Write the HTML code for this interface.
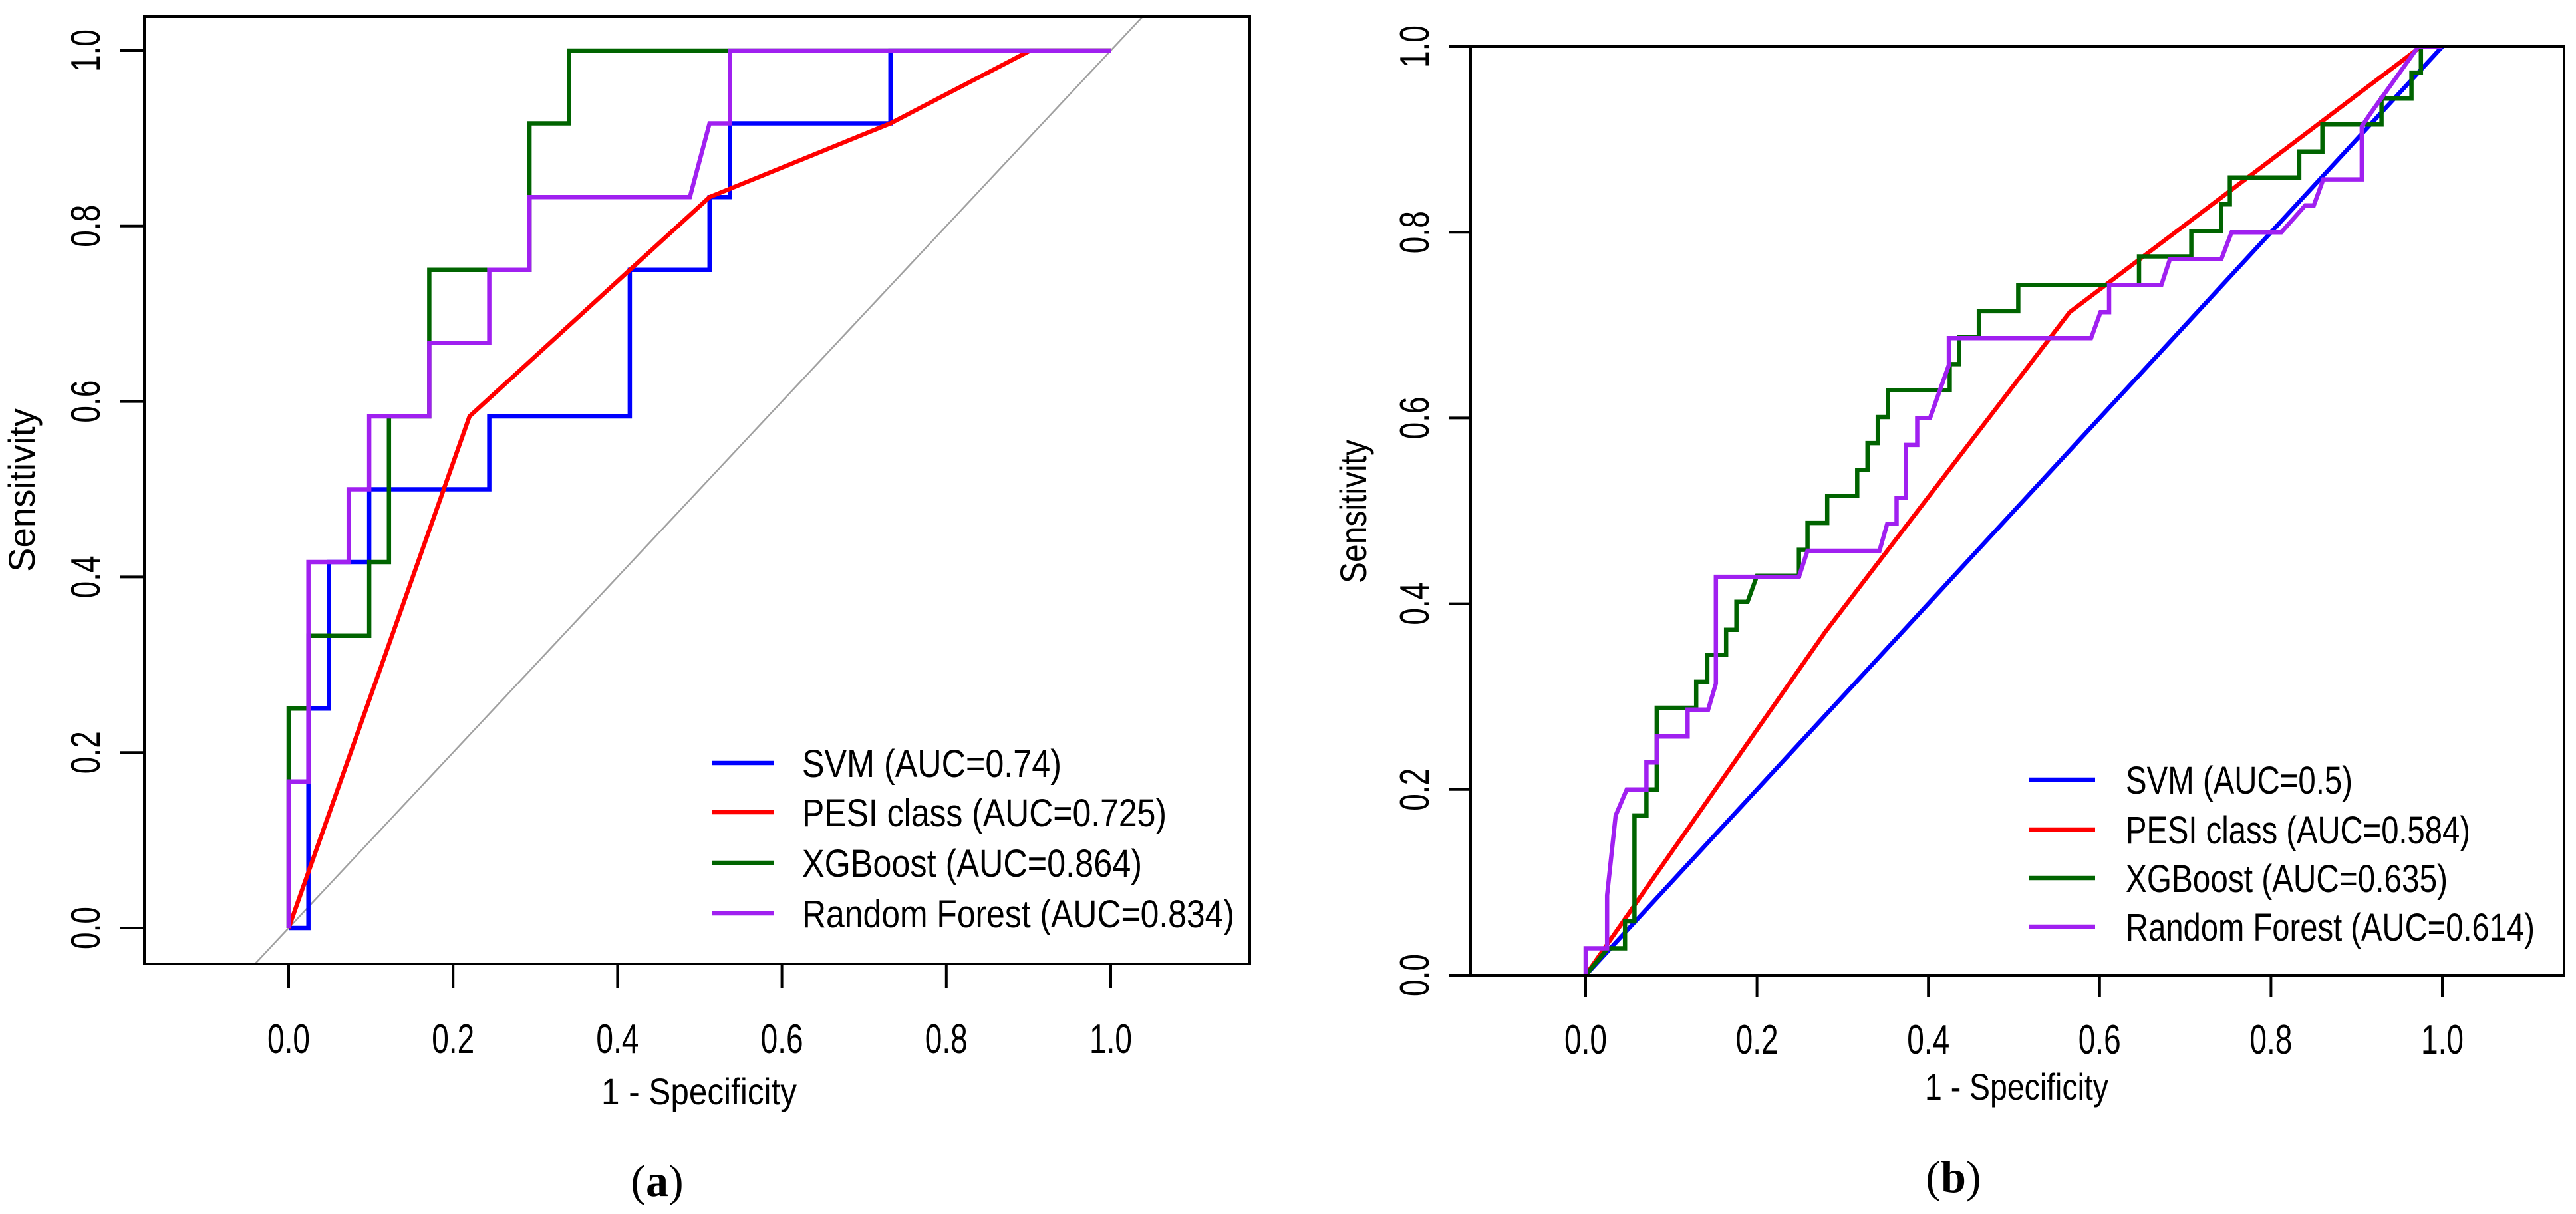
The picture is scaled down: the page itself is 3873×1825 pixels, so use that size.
<!DOCTYPE html>
<html><head><meta charset="utf-8"><style>html,body{margin:0;padding:0;background:#fff;width:3873px;height:1825px;overflow:hidden}svg{display:block}</style></head>
<body>
<svg id="chart" xmlns="http://www.w3.org/2000/svg" width="3873" height="1825" viewBox="0 0 3873 1825" font-family="Liberation Sans, Arial, sans-serif">
<rect width="3873" height="1825" fill="#fff"/>
</svg>
<script>
// ---- Panel A data ----
const ticksA = [0, 0.2, 0.4, 0.6, 0.8, 1.0];
const tickLabelsA = ["0.0","0.2","0.4","0.6","0.8","1.0"];
const svmA_x = [0,0.024,0.024,0.049,0.049,0.098,0.098,0.244,0.244,0.415,0.415,0.512,0.512,0.537,0.537,0.732,0.732,1];
const svmA_y = [0,0,0.25,0.25,0.417,0.417,0.5,0.5,0.583,0.583,0.75,0.75,0.833,0.833,0.917,0.917,1,1];
const pesiA_x = [0,0.22,0.415,0.512,0.732,0.902,1];
const pesiA_y = [0,0.583,0.75,0.833,0.917,1,1];
const xgbA_x = [0,0,0.024,0.024,0.098,0.098,0.122,0.122,0.171,0.171,0.293,0.293,0.341,0.341,1];
const xgbA_y = [0,0.25,0.25,0.333,0.333,0.417,0.417,0.583,0.583,0.75,0.75,0.917,0.917,1,1];
const rfA_x = [0,0,0.024,0.024,0.073,0.073,0.098,0.098,0.171,0.171,0.244,0.244,0.293,0.293,0.488,0.512,0.537,0.537,1];
const rfA_y = [0,0.167,0.167,0.417,0.417,0.5,0.5,0.583,0.583,0.667,0.667,0.75,0.75,0.833,0.833,0.917,0.917,1,1];
const legendA = ["SVM (AUC=0.74)","PESI class (AUC=0.725)","XGBoost (AUC=0.864)","Random Forest (AUC=0.834)"];

// ---- Panel B data ----
const ticksB = [0, 0.2, 0.4, 0.6, 0.8, 1.0];
const tickLabelsB = ["0.0","0.2","0.4","0.6","0.8","1.0"];
const svmB_x = [0,1];
const svmB_y = [0,1];
const pesiB_x = [0,0.28,0.565,0.975,1];
const pesiB_y = [0,0.37,0.714,1,1];
const xgbB_x = [0,0.026,0.046,0.046,0.057,0.057,0.071,0.071,0.083,0.083,0.129,0.129,0.142,0.142,0.164,0.164,0.176,0.176,0.189,0.2,0.249,0.249,0.259,0.259,0.282,0.282,0.317,0.317,0.329,0.329,0.341,0.341,0.353,0.353,0.425,0.425,0.436,0.436,0.459,0.459,0.505,0.505,0.646,0.646,0.707,0.707,0.742,0.742,0.752,0.752,0.833,0.833,0.86,0.86,0.929,0.929,0.964,0.964,0.975,0.975,1];
const xgbB_y = [0,0.029,0.029,0.058,0.058,0.172,0.172,0.2,0.2,0.288,0.288,0.316,0.316,0.345,0.345,0.372,0.372,0.402,0.402,0.43,0.43,0.458,0.458,0.487,0.487,0.516,0.516,0.544,0.544,0.573,0.573,0.601,0.601,0.63,0.63,0.658,0.658,0.687,0.687,0.715,0.715,0.743,0.743,0.774,0.774,0.801,0.801,0.83,0.83,0.859,0.859,0.887,0.887,0.916,0.916,0.944,0.944,0.972,0.972,1,1];
const rfB_x = [0,0,0.025,0.025,0.035,0.048,0.071,0.071,0.083,0.083,0.119,0.119,0.143,0.152,0.152,0.249,0.259,0.343,0.352,0.363,0.363,0.374,0.374,0.387,0.387,0.402,0.424,0.424,0.59,0.601,0.611,0.611,0.672,0.682,0.742,0.754,0.812,0.84,0.85,0.861,0.906,0.906,0.917,0.972,1];
const rfB_y = [0,0.029,0.029,0.086,0.172,0.2,0.2,0.229,0.229,0.257,0.257,0.286,0.286,0.314,0.429,0.429,0.457,0.457,0.486,0.486,0.514,0.514,0.571,0.571,0.6,0.6,0.657,0.686,0.686,0.714,0.714,0.743,0.743,0.771,0.771,0.8,0.8,0.829,0.829,0.857,0.857,0.914,0.929,1,1];
const legendB = ["SVM (AUC=0.5)","PESI class (AUC=0.584)","XGBoost (AUC=0.635)","Random Forest (AUC=0.614)"];

const NS = "http://www.w3.org/2000/svg";
const svg = document.getElementById('chart');
const COLORS = ["#0000FF","#FF0000","#006400","#A020F0"];
const SERIES_NAMES = ["svm","pesi","xgboost","random-forest"];

function mk(tag, attrs, parent) {
  const e = document.createElementNS(NS, tag);
  for (const k in attrs) e.setAttribute(k, attrs[k]);
  (parent || svg).appendChild(e);
  return e;
}

function drawPanel(p) {
  const g = mk('g', {});
  
  
  const sx = v => p.x0 + v * (p.x1 - p.x0);
  const sy = v => p.y0 + v * (p.y1 - p.y0);
  const clipId = p.id + '-clip';
  const cp = mk('clipPath', {id: clipId}, g);
  mk('rect', {x: p.bl, y: p.bt, width: p.br - p.bl, height: p.bb - p.bt}, cp);
  const plot = mk('g', {'clip-path': 'url(#' + clipId + ')'}, g);
  
  
  // reference diagonal y=x limited to the box
  const vxl = (p.bl - p.x0) / (p.x1 - p.x0), vxr = (p.br - p.x0) / (p.x1 - p.x0);
  const vyb = (p.bb - p.y0) / (p.y1 - p.y0), vyt = (p.bt - p.y0) / (p.y1 - p.y0);
  const dLo = Math.max(vxl, vyb), dHi = Math.min(vxr, vyt);
  const dg = mk('line', {x1: sx(dLo), y1: sy(dLo), x2: sx(dHi), y2: sy(dHi), stroke: '#a0a0a0', 'stroke-width': 2.5}, plot);
  
  
  p.series.forEach((s, i) => {
    const pts = s[0].map((xv, j) => sx(xv).toFixed(1) + ',' + sy(s[1][j]).toFixed(1)).join(' ');
    const pl = mk('polyline', {points: pts, fill: 'none', stroke: COLORS[i], 'stroke-width': 6.5, 'stroke-linejoin': 'miter', 'stroke-linecap': 'butt'}, plot);
    
    
  });
  const box = mk('rect', {x: p.bl, y: p.bt, width: p.br - p.bl, height: p.bb - p.bt, fill: 'none', stroke: '#000', 'stroke-width': 4}, g);
  
  
  const xa = mk('g', {}, g);
  
  
  mk('line', {x1: sx(p.ticks[0]), x2: sx(p.ticks[p.ticks.length-1]), y1: p.bb, y2: p.bb, stroke: '#000', 'stroke-width': 4}, xa);
  p.ticks.forEach((t, i) => {
    mk('line', {x1: sx(t), x2: sx(t), y1: p.bb, y2: p.bb + p.tl, stroke: '#000', 'stroke-width': 4}, xa);
    const tx = mk('text', {x: sx(t), y: p.xlabY, 'text-anchor': 'middle', 'font-size': 62, textLength: 64, lengthAdjust: 'spacingAndGlyphs', fill: '#000'}, xa);
    tx.textContent = p.labels[i];
    
    
  });
  const ya = mk('g', {}, g);
  
  
  mk('line', {x1: p.bl, x2: p.bl, y1: sy(p.ticks[0]), y2: sy(p.ticks[p.ticks.length-1]), stroke: '#000', 'stroke-width': 4}, ya);
  p.ticks.forEach((t, i) => {
    mk('line', {x1: p.bl - p.tl, x2: p.bl, y1: sy(t), y2: sy(t), stroke: '#000', 'stroke-width': 4}, ya);
    const tx = mk('text', {x: 0, y: 0, transform: 'translate(' + p.ylabX + ',' + sy(t) + ') rotate(-90)', 'text-anchor': 'middle', 'font-size': 62, textLength: 64, lengthAdjust: 'spacingAndGlyphs', fill: '#000'}, ya);
    tx.textContent = p.labels[i];
    
    
  });
  const xt = mk('text', {x: p.xtX, y: p.xtY, 'text-anchor': 'middle', 'font-size': 56, textLength: p.xtW, lengthAdjust: 'spacingAndGlyphs', fill: '#000'}, g);
  xt.textContent = '1 - Specificity';
  
  
  const yt = mk('text', {x: 0, y: 0, transform: 'translate(' + p.ytX + ',' + p.ytY + ') rotate(-90)', 'text-anchor': 'middle', 'font-size': 56, textLength: p.ytW, lengthAdjust: 'spacingAndGlyphs', fill: '#000'}, g);
  yt.textContent = 'Sensitivity';
  
  
  const lg = mk('g', {}, g);
  
  
  p.legend.forEach((txt, i) => {
    const e = mk('g', {}, lg);
    
    
    mk('line', {x1: p.lgX1, x2: p.lgX2, y1: p.lgY[i], y2: p.lgY[i], stroke: COLORS[i], 'stroke-width': 6.5}, e);
    const t = mk('text', {x: p.lgT, y: p.lgY[i] + 21, 'font-size': 58, textLength: p.lgW[i], lengthAdjust: 'spacingAndGlyphs', fill: '#000'}, e);
    t.textContent = txt;
  });
  const pl = mk('text', {x: p.capX, y: p.capY, 'text-anchor': 'middle', 'font-size': 68, 'font-family': 'Liberation Serif, serif', fill: '#000'}, g);
  
  
  const s1 = mk('tspan', {}, pl); s1.textContent = '(';
  const s2 = mk('tspan', {'font-weight': 'bold'}, pl); s2.textContent = p.cap;
  const s3 = mk('tspan', {}, pl); s3.textContent = ')';
}

drawPanel({id: 'panel-a', x0: 434, x1: 1670, y0: 1395, y1: 76, bl: 217, br: 1879, bt: 25, bb: 1449, tl: 36,
  ticks: ticksA, labels: tickLabelsA, xlabY: 1583, ylabX: 150,
  xtX: 1051, xtY: 1660, xtW: 294, ytX: 52, ytY: 737, ytW: 246,
  series: [[svmA_x, svmA_y], [pesiA_x, pesiA_y], [xgbA_x, xgbA_y], [rfA_x, rfA_y]],
  legend: legendA, lgX1: 1070, lgX2: 1163, lgT: 1206, lgY: [1147, 1221, 1297, 1373], lgW: [390, 548, 511, 650],
  cap: 'a', capX: 988, capY: 1798});

drawPanel({id: 'panel-b', x0: 2384, x1: 3672, y0: 1466, y1: 70, bl: 2211, br: 3855, bt: 70, bb: 1466, tl: 33,
  ticks: ticksB, labels: tickLabelsB, xlabY: 1584, ylabX: 2148,
  xtX: 3032, xtY: 1653, xtW: 276, ytX: 2054, ytY: 769, ytW: 216,
  series: [[svmB_x, svmB_y], [pesiB_x, pesiB_y], [xgbB_x, xgbB_y], [rfB_x, rfB_y]],
  legend: legendB, lgX1: 3051, lgX2: 3150, lgT: 3196, lgY: [1172, 1247, 1320, 1393], lgW: [341, 518, 484, 615],
  cap: 'b', capX: 2937, capY: 1792});
</script>
</body></html>
